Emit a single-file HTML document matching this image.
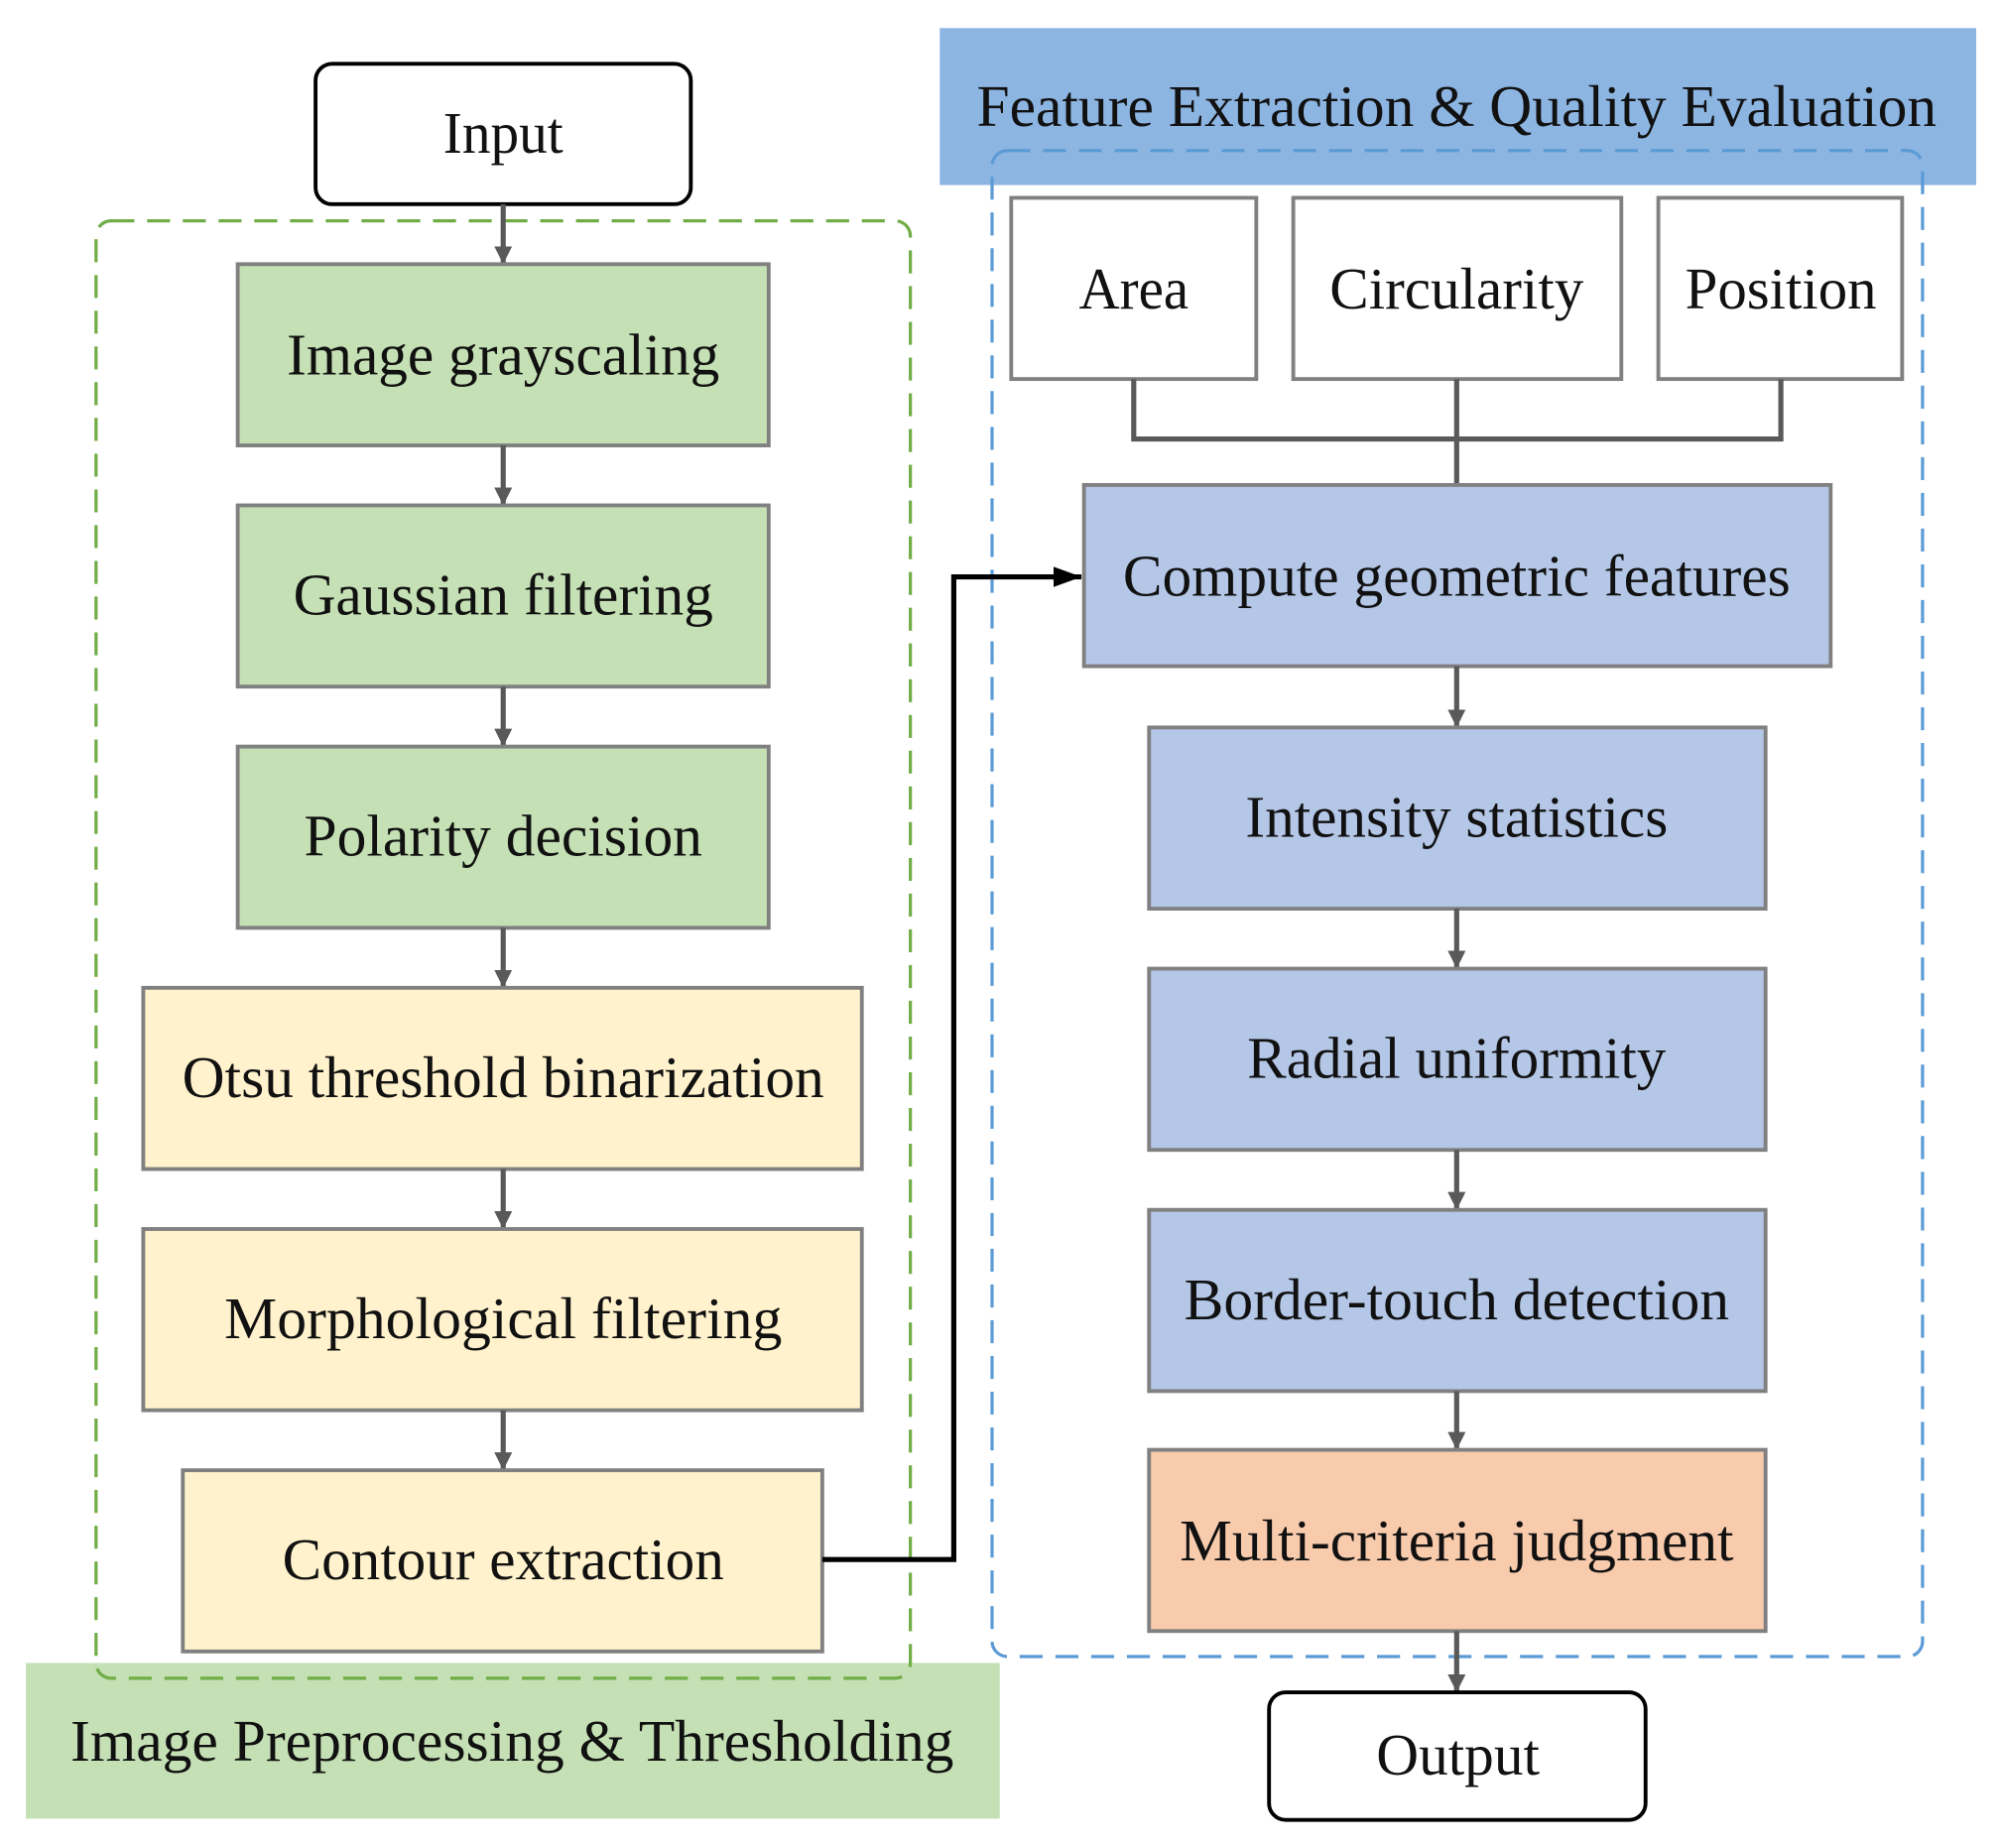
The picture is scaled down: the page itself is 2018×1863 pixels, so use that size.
<!DOCTYPE html>
<html><head><meta charset="utf-8"><style>html,body{margin:0;padding:0;background:#fff}svg{display:block}</style></head>
<body>
<svg xmlns="http://www.w3.org/2000/svg" width="2018" height="1863" viewBox="0 0 1568 1448">
<defs>
<marker id="ag" viewBox="0 0 10 10" refX="10" refY="5" markerWidth="14" markerHeight="14" orient="auto" markerUnits="userSpaceOnUse" preserveAspectRatio="none"><path d="M0,0 L10,5 L0,10 z" fill="#595959"/></marker>
<marker id="ab" viewBox="0 0 10 10" refX="10" refY="5" markerWidth="22" markerHeight="16" orient="auto" markerUnits="userSpaceOnUse" preserveAspectRatio="none"><path d="M0,0 L10,5 L0,10 z" fill="#000"/></marker>
</defs>
<style>
text{font-family:"Liberation Serif",serif;font-size:46px;fill:#111;text-anchor:middle;dominant-baseline:central}
.g{fill:#c5e0b4;stroke:#808080;stroke-width:3}
.y{fill:#fff2cc;stroke:#808080;stroke-width:3}
.b{fill:#b4c7e7;stroke:#808080;stroke-width:3}
.o{fill:#f8cbad;stroke:#808080;stroke-width:3}
.w{fill:#fff;stroke:#808080;stroke-width:3}
.c{stroke:#595959;stroke-width:4;fill:none}
</style>
<rect x="20" y="1303" width="763" height="122" fill="#c5e0b4"/>
<rect x="736" y="22" width="812" height="123" fill="#8db5e2"/>
<rect x="75" y="173" width="638" height="1142" rx="12" fill="none" stroke="#70ad47" stroke-width="2.5" stroke-dasharray="18,10"/>
<rect x="777" y="118" width="729" height="1180" rx="12" fill="none" stroke="#5b9bd5" stroke-width="2.5" stroke-dasharray="18,10"/>
<text x="401" y="1364" textLength="692" lengthAdjust="spacingAndGlyphs">Image Preprocessing &amp; Thresholding</text>
<text x="1141" y="83" textLength="752" lengthAdjust="spacingAndGlyphs">Feature Extraction &amp; Quality Evaluation</text>

<rect x="247" y="50" width="294" height="110" rx="13" fill="#fff" stroke="#000" stroke-width="3"/>
<text x="394" y="104" textLength="94" lengthAdjust="spacingAndGlyphs">Input</text>

<line class="c" x1="394" y1="160" x2="394" y2="207" marker-end="url(#ag)"/>
<rect class="g" x="186" y="207" width="416" height="142"/>
<text x="394" y="278" textLength="339" lengthAdjust="spacingAndGlyphs">Image grayscaling</text>
<line class="c" x1="394" y1="349" x2="394" y2="396" marker-end="url(#ag)"/>
<rect class="g" x="186" y="396" width="416" height="142"/>
<text x="394" y="466" textLength="329" lengthAdjust="spacingAndGlyphs">Gaussian filtering</text>
<line class="c" x1="394" y1="538" x2="394" y2="585" marker-end="url(#ag)"/>
<rect class="g" x="186" y="585" width="416" height="142"/>
<text x="394" y="655" textLength="312" lengthAdjust="spacingAndGlyphs">Polarity decision</text>
<line class="c" x1="394" y1="727" x2="394" y2="774" marker-end="url(#ag)"/>
<rect class="y" x="112" y="774" width="563" height="142"/>
<text x="394" y="844" textLength="503" lengthAdjust="spacingAndGlyphs">Otsu threshold binarization</text>
<line class="c" x1="394" y1="916" x2="394" y2="963" marker-end="url(#ag)"/>
<rect class="y" x="112" y="963" width="563" height="142"/>
<text x="394" y="1033" textLength="437" lengthAdjust="spacingAndGlyphs">Morphological filtering</text>
<line class="c" x1="394" y1="1105" x2="394" y2="1152" marker-end="url(#ag)"/>
<rect class="y" x="143" y="1152" width="501" height="142"/>
<text x="394" y="1222" textLength="346" lengthAdjust="spacingAndGlyphs">Contour extraction</text>

<polyline points="644,1222 747,1222 747,452 847,452" fill="none" stroke="#000" stroke-width="4" marker-end="url(#ab)"/>

<rect class="w" x="792" y="155" width="192" height="142"/>
<text x="888" y="226" textLength="86" lengthAdjust="spacingAndGlyphs">Area</text>
<rect class="w" x="1013" y="155" width="257" height="142"/>
<text x="1141" y="226" textLength="199" lengthAdjust="spacingAndGlyphs">Circularity</text>
<rect class="w" x="1299" y="155" width="191" height="142"/>
<text x="1395" y="226" textLength="150" lengthAdjust="spacingAndGlyphs">Position</text>
<polyline class="c" points="888,297 888,344 1395,344 1395,297"/>
<line class="c" x1="1141" y1="297" x2="1141" y2="380"/>

<rect class="b" x="849" y="380" width="585" height="142"/>
<text x="1141" y="451" textLength="523" lengthAdjust="spacingAndGlyphs">Compute geometric features</text>
<line class="c" x1="1141" y1="522" x2="1141" y2="570" marker-end="url(#ag)"/>
<rect class="b" x="900" y="570" width="483" height="142"/>
<text x="1141" y="640" textLength="331" lengthAdjust="spacingAndGlyphs">Intensity statistics</text>
<line class="c" x1="1141" y1="712" x2="1141" y2="759" marker-end="url(#ag)"/>
<rect class="b" x="900" y="759" width="483" height="142"/>
<text x="1141" y="829" textLength="328" lengthAdjust="spacingAndGlyphs">Radial uniformity</text>
<line class="c" x1="1141" y1="901" x2="1141" y2="948" marker-end="url(#ag)"/>
<rect class="b" x="900" y="948" width="483" height="142"/>
<text x="1141" y="1018" textLength="427" lengthAdjust="spacingAndGlyphs">Border-touch detection</text>
<line class="c" x1="1141" y1="1090" x2="1141" y2="1136" marker-end="url(#ag)"/>
<rect class="o" x="900" y="1136" width="483" height="142"/>
<text x="1141" y="1207" textLength="434" lengthAdjust="spacingAndGlyphs">Multi-criteria judgment</text>
<line class="c" x1="1141" y1="1278" x2="1141" y2="1326" marker-end="url(#ag)"/>
<rect x="994" y="1326" width="295" height="100" rx="13" fill="#fff" stroke="#000" stroke-width="3"/>
<text x="1142" y="1375" textLength="128" lengthAdjust="spacingAndGlyphs">Output</text>
</svg>
</body></html>
